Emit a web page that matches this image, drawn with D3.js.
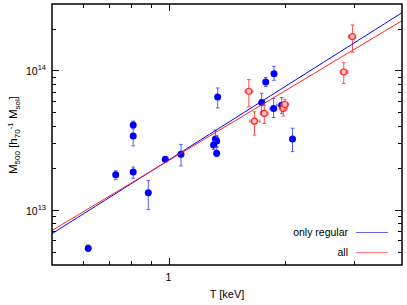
<!DOCTYPE html>
<html><head><meta charset="utf-8">
<script src="https://cdn.jsdelivr.net/npm/d3@7"></script>
<style>body{margin:0;background:#fff}svg{display:block}text{font-family:"Liberation Sans",Arial,sans-serif;fill:#000}</style>
</head><body>
<script>
// ---- data (M in units of 1e13 M_sol, T in keV) ----
const blueT   = [0.62, 0.73, 0.81, 0.81, 0.81, 0.886, 0.98, 1.076, 1.338, 1.32, 1.33, 1.306, 1.33, 1.738, 1.78, 1.87, 1.865, 1.957, 2.087];
const blueTlo = [0.62, 0.73, 0.81, 0.81, 0.81, 0.886, 0.98, 1.076, 1.338, 1.32, 1.33, 1.306, 1.33, 1.738, 1.78, 1.87, 1.826, 1.90, 2.087];
const blueThi = [0.62, 0.73, 0.81, 0.81, 0.81, 0.886, 0.98, 1.076, 1.338, 1.32, 1.33, 1.306, 1.33, 1.738, 1.78, 1.87, 1.90, 2.01, 2.087];
const blueM   = [0.527, 1.78, 4.05, 3.38, 1.86, 1.32, 2.30, 2.50, 6.44, 3.21, 3.11, 2.91, 2.54, 5.88, 8.24, 9.46, 5.32, 5.62, 3.21];
const blueMlo = [0.50, 1.64, 3.81, 2.87, 1.68, 1.00, 2.22, 2.06, 5.38, 2.95, 2.85, 2.70, 2.40, 5.04, 7.66, 8.49, 4.59, 4.91, 2.61];
const blueMhi = [0.555, 1.90, 4.32, 3.81, 2.02, 1.62, 2.38, 2.94, 7.48, 3.73, 3.40, 3.10, 2.80, 6.85, 8.90, 10.7, 6.28, 6.38, 3.84];

const redT   = [1.61, 1.665, 1.765, 1.976, 1.995, 2.98, 2.83];
const redTlo = [1.574, 1.62, 1.725, 1.93, 1.95, 2.91, 2.77];
const redThi = [1.648, 1.72, 1.805, 2.02, 2.04, 3.04, 2.90];
const redM   = [7.08, 4.32, 4.91, 5.32, 5.69, 17.5, 9.73];
const redMlo = [5.47, 3.43, 4.16, 4.70, 5.20, 13.5, 8.04];
const redMhi = [8.59, 5.04, 5.62, 5.90, 6.20, 21.2, 11.35];

// power-law fits: M = A * T^B (A in 1e13)
const fitNames = ["only regular", "all"];
const fitA = [2.27, 2.25];
const fitB = [1.758, 1.669];

const xDomain = [0.5, 4];
const yDomain = [0.4, 30];
const xTickVals = [0.6, 0.7, 0.8, 0.9, 1, 2, 3];
const xTickLabels = {1: "1"};

// ---- layout ----
const W = 407, H = 305;
const L = 52, R = 402, T = 4, B = 265;
const svg = d3.select("body").append("svg").attr("width", W).attr("height", H);
const x = d3.scaleLog().domain(xDomain).range([L, R]);
const y = d3.scaleLog().domain(yDomain).range([B, T]);

const blueCol = "#0000ff", blueErr = "#5a5aff", redCol = "#ff2020", redErr = "#ff5050";

const plot = svg.append("g");
svg.append("clipPath").attr("id", "c").append("rect").attr("x", L).attr("y", T).attr("width", R - L).attr("height", B - T);

function drawSet(Tv, Tlo, Thi, Mv, Mlo, Mhi, col, ecol, open) {
  const g = plot.append("g").attr("clip-path", "url(#c)");
  const cap = 1.8;
  Tv.forEach((t, i) => {
    const cx = x(t), cy = y(Mv[i]);
    const e = g.append("g").attr("stroke", ecol).attr("stroke-width", 1).attr("fill", "none");
    if (Mhi[i] !== Mlo[i]) {
      e.append("line").attr("x1", cx).attr("x2", cx).attr("y1", y(Mlo[i])).attr("y2", y(Mhi[i]));
      e.append("line").attr("x1", cx - cap).attr("x2", cx + cap).attr("y1", y(Mlo[i])).attr("y2", y(Mlo[i]));
      e.append("line").attr("x1", cx - cap).attr("x2", cx + cap).attr("y1", y(Mhi[i])).attr("y2", y(Mhi[i]));
    }
    if (Thi[i] !== Tlo[i]) {
      e.append("line").attr("y1", cy).attr("y2", cy).attr("x1", x(Tlo[i])).attr("x2", x(Thi[i]));
      e.append("line").attr("y1", cy - cap).attr("y2", cy + cap).attr("x1", x(Tlo[i])).attr("x2", x(Tlo[i]));
      e.append("line").attr("y1", cy - cap).attr("y2", cy + cap).attr("x1", x(Thi[i])).attr("x2", x(Thi[i]));
    }
    if (open) {
      g.append("circle").attr("cx", cx).attr("cy", cy).attr("r", 3)
        .attr("fill", "#ffc0c0").attr("stroke", col).attr("stroke-width", 1.1);
    } else {
      g.append("circle").attr("cx", cx).attr("cy", cy).attr("r", 3.5).attr("fill", col);
    }
  });
}
drawSet(blueT, blueTlo, blueThi, blueM, blueMlo, blueMhi, blueCol, blueErr, false);
drawSet(redT, redTlo, redThi, redM, redMlo, redMhi, redCol, redErr, true);

// fit lines
const fitCols = [blueCol, redCol];
const lg = plot.append("g").attr("clip-path", "url(#c)");
fitA.forEach((A, k) => {
  const pts = d3.range(0, 41).map(j => {
    const t = xDomain[0] * Math.pow(xDomain[1] / xDomain[0], j / 40);
    return [x(t), y(A * Math.pow(t, fitB[k]))];
  });
  lg.append("path").attr("d", d3.line()(pts)).attr("fill", "none")
    .attr("stroke", fitCols[k]).attr("stroke-width", 1);
});

// ---- axes ----
const ax = svg.append("g").attr("stroke", "#000").attr("stroke-width", 1);
const yTicks = [];
for (let e = -1; e <= 2; e++) for (let k = 1; k <= 9; k++) {
  const v = k * Math.pow(10, e);
  if (v > yDomain[0] * 1.0001 && v < yDomain[1] * 0.9999) yTicks.push({v, major: k === 1});
}
yTicks.forEach(t => {
  const yy = Math.round(y(t.v)) + 0.5, len = t.major ? 7 : 4;
  ax.append("line").attr("x1", L).attr("x2", L + len).attr("y1", yy).attr("y2", yy);
  ax.append("line").attr("x1", R).attr("x2", R - len).attr("y1", yy).attr("y2", yy);
  if (t.major) {
    const exp = Math.round(Math.log10(t.v * 1e13));
    const tx = svg.append("text").attr("x", 46).attr("y", yy + 4).attr("text-anchor", "end").style("font-size", "10.5px");
    tx.append("tspan").text("10");
    tx.append("tspan").attr("dy", -4.5).style("font-size", "7.5px").text(exp);
  }
});
xTickVals.forEach(v => {
  const xx = Math.round(x(v)) + 0.5, major = v === 1, len = major ? 7 : 4;
  ax.append("line").attr("x1", xx).attr("x2", xx).attr("y1", B).attr("y2", B - len);
  ax.append("line").attr("x1", xx).attr("x2", xx).attr("y1", T).attr("y2", T + len);
  if (xTickLabels[v]) svg.append("text").attr("x", xx - 1).attr("y", 281).attr("text-anchor", "middle").style("font-size", "10.5px").text(xTickLabels[v]);
});
svg.append("rect").attr("x", L).attr("y", T).attr("width", R - L).attr("height", B - T)
  .attr("fill", "none").attr("stroke", "#000").attr("stroke-width", 1.5);

// axis labels
svg.append("text").attr("x", 227).attr("y", 298).attr("text-anchor", "middle").style("font-size", "11px").text("T [keV]");
const yl = svg.append("text").attr("transform", "translate(17,135) rotate(-90)").attr("text-anchor", "middle").style("font-size", "11.5px");
yl.append("tspan").text("M");
yl.append("tspan").attr("dy", 3).style("font-size", "8px").text("500");
yl.append("tspan").attr("dy", -3).text(" [h");
yl.append("tspan").attr("dy", 3).style("font-size", "8px").text("70");
yl.append("tspan").attr("dy", -7.5).style("font-size", "8px").text("-1");
yl.append("tspan").attr("dy", 4.5).text(" M");
yl.append("tspan").attr("dy", 3).style("font-size", "8px").text("sol");
yl.append("tspan").attr("dy", -3).text("]");

// legend
fitNames.forEach((n, k) => {
  const ly = 232 + k * 20;
  svg.append("text").attr("x", 348).attr("y", ly + 4).attr("text-anchor", "end").style("font-size", "10.5px").text(n);
  svg.append("line").attr("x1", 356).attr("x2", 388).attr("y1", ly + 0.5).attr("y2", ly + 0.5)
    .attr("stroke", fitCols[k]).attr("stroke-width", 1).attr("opacity", 0.6);
});
</script>
</body></html>
